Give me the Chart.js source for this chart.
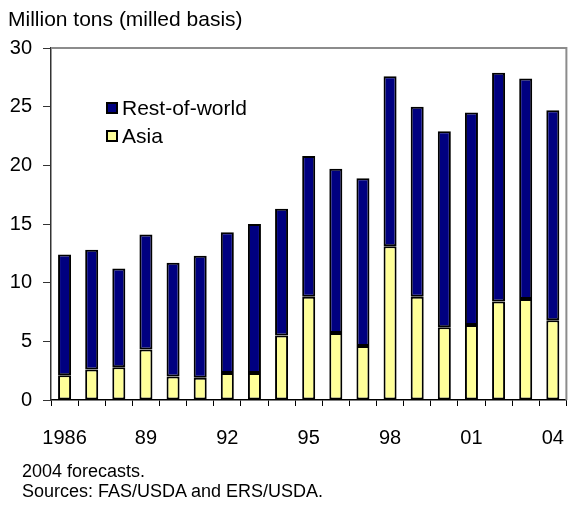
<!DOCTYPE html>
<html>
<head>
<meta charset="utf-8">
<script src="https://cdn.jsdelivr.net/npm/chart.js@4"></script>
<style>
  html, body { margin: 0; padding: 0; background: #fff; }
  #wrap { position: relative; width: 584px; height: 512px; font-family: "Liberation Sans", Arial, sans-serif; color: #000; }
  canvas { position: absolute; left: 0; top: 0; }
  .txt { position: absolute; white-space: nowrap; line-height: 1; }
  #unit { left: 8px; top: 8px; font-size: 21px; }
  .foot { left: 22px; font-size: 18px; }
  #legend { position: absolute; left: 106px; top: 94px; font-size: 21px; }
  .lg { display: flex; align-items: center; height: 28px; }
  .sw { width: 8px; height: 8px; border: 2px solid #000; margin-right: 4px; }
</style>
</head>
<body>
<div id="wrap">
  <canvas id="c" width="584" height="512"></canvas>
  <div class="txt" id="unit">Million tons (milled basis)</div>
  <div id="legend"></div>
  <div class="txt foot" style="top:462px">2004 forecasts.</div>
  <div class="txt foot" style="top:482px">Sources: FAS/USDA and ERS/USDA.</div>
</div>
<script>
// Rice trade, million tons (milled basis), 1986-2004
const years = ['1986','1987','1988','1989','1990','1991','1992','1993','1994','1995',
               '1996','1997','1998','1999','2000','2001','2002','2003','2004'];
const tickLabels = ['1986','','','89','','','92','','','95','','','98','','','01','','','04'];
const asia = [2.1, 2.6, 2.8, 4.3, 2.0, 1.9, 2.3, 2.3, 5.5, 8.8,
              5.7, 4.6, 13.1, 8.8, 6.2, 6.4, 8.4, 8.6, 6.8];
const restOfWorld = [10.3, 10.2, 8.4, 9.8, 9.7, 10.4, 12.0, 12.7, 10.8, 12.0,
                     14.0, 14.3, 14.5, 16.2, 16.7, 18.1, 19.5, 18.8, 17.9];
const yTicks = [0, 5, 10, 15, 20, 25, 30];

const NAVY = '#000080';
const PALE = '#FFFF99';
const FONT = '"Liberation Sans", Arial, sans-serif';

// legend, Rest-of-world listed first
const legendItems = [['Rest-of-world', NAVY], ['Asia', PALE]];
const lg = document.getElementById('legend');
legendItems.forEach(([name, col]) => {
  const row = document.createElement('div');
  row.className = 'lg';
  const sw = document.createElement('div');
  sw.className = 'sw';
  sw.style.background = col;
  row.appendChild(sw);
  row.appendChild(document.createTextNode(name));
  lg.appendChild(row);
});

// gray frame along the top and right of the plot area
const framePlugin = {
  id: 'frame',
  beforeDatasetsDraw(chart) {
    const { ctx, chartArea: a } = chart;
    ctx.save();
    ctx.strokeStyle = '#8c8c8c';
    ctx.lineWidth = 2;
    ctx.beginPath();
    ctx.moveTo(a.left, a.top);
    ctx.lineTo(a.right, a.top);
    ctx.lineTo(a.right, a.bottom);
    ctx.stroke();
    ctx.restore();
  }
};

new Chart(document.getElementById('c'), {
  type: 'bar',
  data: {
    labels: years,
    datasets: [
      { label: 'Asia', data: asia, backgroundColor: PALE, borderColor: '#000',
        borderWidth: 2, borderSkipped: false, barPercentage: 0.48, categoryPercentage: 1 },
      { label: 'Rest-of-world', data: restOfWorld, backgroundColor: NAVY, borderColor: '#000',
        borderWidth: 2, borderSkipped: false, barPercentage: 0.48, categoryPercentage: 1 }
    ]
  },
  options: {
    responsive: false,
    devicePixelRatio: 1,
    animation: false,
    layout: { padding: { top: 48, right: 2, left: 0, bottom: 0 } },
    plugins: { legend: { display: false }, tooltip: { enabled: false } },
    scales: {
      x: {
        stacked: true,
        afterFit: s => { s.height = 112; },
        border: { color: '#000', width: 1.5 },
        grid: { offset: true, drawOnChartArea: false, tickLength: 6, color: '#000', lineWidth: 1 },
        ticks: {
          autoSkip: false, maxRotation: 0, padding: 20,
          color: '#000', font: { family: FONT, size: 20 },
          callback: (v, i) => tickLabels[i]
        }
      },
      y: {
        stacked: true,
        min: 0, max: 30,
        afterFit: s => { s.width = 51; },
        afterBuildTicks: s => { s.ticks = yTicks.map(v => ({ value: v })); },
        border: { color: '#333', width: 1.5 },
        grid: { drawOnChartArea: false, tickLength: 8, color: '#333', lineWidth: 1 },
        ticks: { padding: 11, color: '#000', font: { family: FONT, size: 20 } }
      }
    }
  },
  plugins: [framePlugin]
});
</script>
</body>
</html>
